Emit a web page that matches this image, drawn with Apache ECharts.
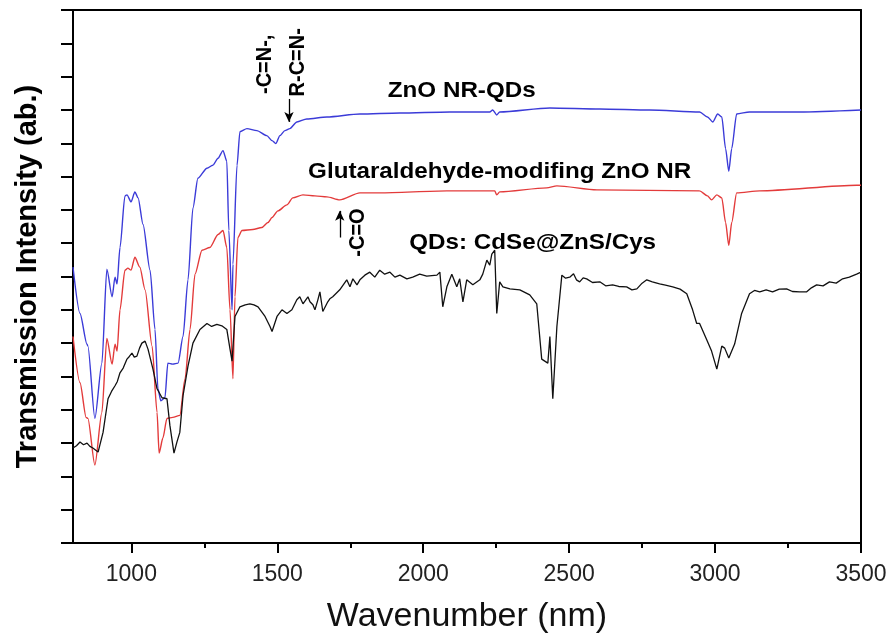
<!DOCTYPE html>
<html>
<head>
<meta charset="utf-8">
<script src="https://cdn.jsdelivr.net/npm/echarts@6/dist/echarts.min.js"></script>
<style>
html,body{margin:0;padding:0;background:#fff;}
#chart{width:896px;height:639px;}
</style>
</head>
<body>
<div id="chart"></div>
<script>
// ---- Data ----
const majorTicks = [1000, 1500, 2000, 2500, 3000, 3500];
const minorTicks = [1250, 1750, 2250, 2750, 3250];

const seriesNames = ['ZnO NR-QDs', 'Glutaraldehyde-modifing ZnO NR', 'QDs: CdSe@ZnS/Cys'];

const znoQdsX = [800,824,848,851,875,899,916,934,944,951,961,978,985,999,1012,1023,1040,1064,1081,1091,1101,1115,1125,1142,1160,1177,1194,1211,1228,1259,1279,1297,1314,1327,1334,1345,1348,1362,1372,1396,1430,1464,1482,1495,1509,1526,1543,1567,1601,1670,1783,1920,2091,2228,2238,2252,2262,2434,2605,2776,2947,2974,2992,3009,3023,3036,3047,3057,3074,3118,3290,3500];
const znoQdsY = [8.28,6.89,5.97,5.91,3.74,5.40,8.22,7.39,7.98,7.78,8.87,10.42,10.45,10.24,10.54,10.36,9.56,8.19,6.41,4.63,4.27,4.36,5.40,5.37,5.40,6.20,7.90,10.06,10.95,11.25,11.34,11.55,11.78,11.46,9.38,7.00,8.37,11.34,12.35,12.44,12.38,12.23,12.08,11.99,12.23,12.38,12.44,12.64,12.73,12.79,12.88,12.91,12.94,12.94,13.00,12.85,12.94,13.06,13.03,13.00,12.94,12.79,12.64,12.88,12.79,11.84,11.16,11.84,12.88,12.94,12.94,13.00];

const gluX = [800,824,845,851,875,899,916,934,944,951,961,978,988,999,1012,1029,1047,1071,1088,1095,1108,1122,1142,1166,1184,1201,1218,1242,1269,1297,1314,1327,1338,1348,1355,1365,1379,1416,1447,1468,1482,1502,1533,1553,1588,1629,1670,1714,1783,1851,2081,2245,2252,2262,2423,2458,2595,2947,2974,2988,3006,3023,3036,3047,3057,3074,3153,3485,3500];
const gluY = [6.20,4.81,3.77,3.74,2.34,3.92,6.14,5.37,5.97,5.76,7.00,8.19,8.25,8.19,8.58,8.28,7.60,5.91,3.92,2.70,3.15,3.74,3.77,3.83,4.93,6.41,8.07,8.79,8.87,9.26,9.38,8.87,7.00,4.93,7.39,9.17,9.38,9.41,9.47,9.62,9.77,9.97,10.15,10.36,10.45,10.42,10.39,10.30,10.51,10.51,10.57,10.57,10.45,10.54,10.66,10.72,10.60,10.57,10.42,10.30,10.45,10.36,9.62,8.93,9.62,10.51,10.57,10.74,10.74];

const qdsPoints = [
  [800,2.85],[812,2.92],[824,3.03],[836,2.95],[848,3.00],[858,2.90],[868,2.85],[886,2.73],[903,3.32],[920,4.33],
  [932,4.55],[944,4.72],[952,4.85],[961,5.11],[972,5.25],[985,5.52],[993,5.60],[1002,5.70],[1010,5.58],[1019,5.61],
  [1028,5.85],[1036,6.00],[1047,6.06],[1057,5.82],[1074,5.22],[1088,4.63],[1105,4.36],[1122,4.33],[1132,3.53],[1146,2.70],
  [1156,3.03],[1166,3.32],[1177,4.42],[1194,5.31],[1211,6.00],[1235,6.41],[1259,6.59],[1275,6.50],[1293,6.56],[1310,6.52],
  [1327,6.41],[1338,5.82],[1345,5.46],[1355,6.80],[1372,7.09],[1390,7.15],[1406,7.18],[1420,7.15],[1434,7.09],[1458,6.80],
  [1475,6.50],[1482,6.35],[1499,6.80],[1516,7.00],[1533,6.89],[1550,7.00],[1567,7.30],[1577,7.39],[1588,7.18],[1605,7.39],
  [1612,7.24],[1622,7.15],[1629,7.00],[1639,7.30],[1646,7.54],[1656,6.95],[1673,7.24],[1680,7.33],[1690,7.39],[1714,7.60],
  [1738,7.90],[1749,7.69],[1759,7.93],[1773,7.75],[1783,7.90],[1800,8.04],[1817,8.13],[1834,7.98],[1851,8.19],[1868,8.07],
  [1886,8.13],[1903,7.98],[1920,8.04],[1944,7.93],[1964,7.98],[1988,8.07],[2012,8.01],[2047,8.04],[2057,8.13],[2067,7.09],
  [2081,7.69],[2098,8.07],[2115,7.69],[2125,7.93],[2136,7.24],[2149,7.90],[2170,7.75],[2194,7.90],[2204,8.07],[2218,8.49],
  [2228,8.34],[2235,8.67],[2245,8.79],[2252,6.89],[2262,7.84],[2273,7.69],[2297,7.63],[2331,7.60],[2365,7.45],[2389,7.18],
  [2406,5.52],[2427,5.40],[2434,6.20],[2444,4.33],[2458,6.50],[2475,8.04],[2488,7.95],[2502,7.98],[2515,8.08],[2525,7.90],
  [2536,7.84],[2548,7.96],[2560,7.93],[2580,7.82],[2605,7.84],[2625,7.72],[2649,7.75],[2670,7.70],[2697,7.69],[2715,7.60],
  [2732,7.63],[2750,7.80],[2766,7.90],[2785,7.84],[2810,7.78],[2830,7.74],[2855,7.69],[2880,7.62],[2903,7.48],[2923,7.00],
  [2937,6.59],[2947,6.59],[2971,6.11],[2988,5.76],[3006,5.22],[3023,5.91],[3033,5.85],[3047,5.55],[3067,5.97],[3091,6.89],
  [3118,7.48],[3135,7.58],[3153,7.54],[3175,7.60],[3197,7.54],[3220,7.62],[3245,7.63],[3265,7.55],[3290,7.54],[3314,7.54],
  [3330,7.66],[3348,7.75],[3370,7.72],[3392,7.84],[3415,7.80],[3437,7.93],[3460,7.98],[3485,8.07],[3500,8.13]
];

// annotation anchors in data coordinates
const arrowDown = [[1540, 13.33], [1540, 12.64]];
const arrowUp = [[1714, 9.17], [1714, 9.97]];

function zip(xs, ys) { return xs.map((x, i) => [x, ys[i]]); }

const chart = echarts.init(document.getElementById('chart'), null, {renderer: 'canvas'});
const FONT = '"Liberation Sans", Arial, sans-serif';
const lineBase = {type: 'line', showSymbol: false, symbol: 'none', animation: false, xAxisIndex: 0, yAxisIndex: 0};

chart.setOption({
  animation: false,
  backgroundColor: '#fff',
  grid: {left: 73, right: 35, top: 10, bottom: 89, containLabel: false},
  xAxis: [
    {
      type: 'value', min: 800, max: 3500, position: 'bottom',
      axisLine: {show: true, lineStyle: {color: '#000', width: 2}},
      axisTick: {show: true, length: 10, lineStyle: {color: '#000', width: 2}, customValues: majorTicks},
      axisLabel: {show: true, customValues: majorTicks, fontSize: 23, color: '#222', margin: 20, fontFamily: FONT,
                  formatter: v => String(v)},
      splitLine: {show: false},
      name: 'Wavenumber (nm)', nameLocation: 'middle', nameGap: 57,
      nameTextStyle: {fontSize: 34, color: '#111', fontFamily: FONT}
    },
    {
      type: 'value', min: 800, max: 3500, position: 'bottom', offset: 0,
      axisLine: {show: false},
      axisTick: {show: true, length: 5, lineStyle: {color: '#000', width: 2}, customValues: minorTicks},
      axisLabel: {show: false},
      splitLine: {show: false}
    },
    {
      type: 'value', min: 800, max: 3500, position: 'top',
      axisLine: {show: true, lineStyle: {color: '#000', width: 2}},
      axisTick: {show: false}, axisLabel: {show: false}, splitLine: {show: false}
    }
  ],
  yAxis: [
    {
      type: 'value', min: 0, max: 16, interval: 1, position: 'left',
      axisLine: {show: true, lineStyle: {color: '#000', width: 2}},
      axisTick: {show: true, length: 12, lineStyle: {color: '#000', width: 2}},
      axisLabel: {show: false},
      splitLine: {show: false},
      name: 'Transmission Intensity (ab.)', nameLocation: 'middle', nameGap: 31,
      nameTextStyle: {fontSize: 29, fontWeight: 'bold', color: '#000', fontFamily: FONT}
    },
    {
      type: 'value', min: 0, max: 16, position: 'right',
      axisLine: {show: true, lineStyle: {color: '#000', width: 2}},
      axisTick: {show: false}, axisLabel: {show: false}, splitLine: {show: false}
    }
  ],
  series: [
    Object.assign({}, lineBase, {
      name: seriesNames[0], data: zip(znoQdsX, znoQdsY), smooth: 0.25, smoothMonotone: 'x',
      lineStyle: {color: '#3b3bd8', width: 1.4}, itemStyle: {color: '#3b3bd8'},
      markLine: {
        silent: true, symbol: ['none', 'arrow'], symbolSize: [7, 10], label: {show: false},
        lineStyle: {color: '#000', width: 1.3, type: 'solid'},
        data: [[{coord: arrowDown[0]}, {coord: arrowDown[1]}], [{coord: arrowUp[0]}, {coord: arrowUp[1]}]]
      }
    }),
    Object.assign({}, lineBase, {
      name: seriesNames[1], data: zip(gluX, gluY), smooth: 0.25, smoothMonotone: 'x',
      lineStyle: {color: '#e33b3b', width: 1.4}, itemStyle: {color: '#e33b3b'}
    }),
    Object.assign({}, lineBase, {
      name: seriesNames[2], data: qdsPoints,
      lineStyle: {color: '#111', width: 1.3}, itemStyle: {color: '#111'}
    })
  ]
});

// text annotations placed from data coordinates
const notes = [
  {text: 'ZnO NR-QDs', at: [2132, 13.56], size: 22, rot: 0},
  {text: 'Glutaraldehyde-modifing ZnO NR', at: [2262, 11.13], size: 22, rot: 0},
  {text: 'QDs: CdSe@ZnS/Cys', at: [2375, 9.02], size: 22, rot: 0},
  {text: '-C=N-,', at: [1458, 14.37], size: 20, rot: Math.PI / 2},
  {text: 'R-C=N-', at: [1571, 14.43], size: 20, rot: Math.PI / 2},
  {text: '-C=O', at: [1776, 9.32], size: 20, rot: Math.PI / 2}
];
const graphics = notes.map(n => {
  const p = chart.convertToPixel({xAxisIndex: 0, yAxisIndex: 0}, n.at);
  return {
    type: 'text', x: p[0], y: p[1], rotation: n.rot,
    scaleX: n.rot ? 1 : 1.1, scaleY: n.rot ? 1.1 : 1,
    style: {text: n.text, fontSize: n.size, fontWeight: 'bold', fontFamily: FONT, fill: '#000', align: 'center', verticalAlign: 'middle'},
    z: 10
  };
});
chart.setOption({graphic: graphics});
</script>
</body>
</html>
